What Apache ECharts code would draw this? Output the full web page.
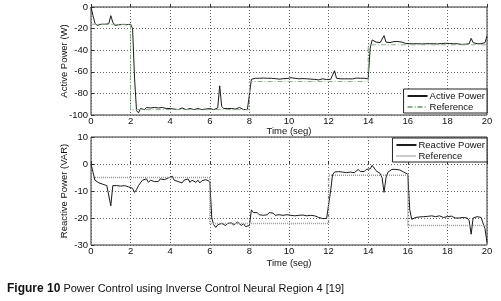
<!DOCTYPE html>
<html>
<head>
<meta charset="utf-8">
<script src="https://cdn.jsdelivr.net/npm/echarts@6/dist/echarts.min.js"></script>
<style>
  html, body { margin: 0; padding: 0; background: #fff; }
  #chart { width: 501px; height: 301px; }
</style>
</head>
<body>
<div id="chart"></div>
<script>
// sample step of the measured signals (seg)
const dt = 0.1

// Active power (W), one value every 0.1 s from 0 to 20
const activePower = [
  0, -8, -15, -17, -16.5, -16, -16.5, -16, -16.2, -15.5,
  -8, -14, -17, -16, -16.5, -15.8, -16.2, -16, -16.4, -15.9,
  -16, -20, -66, -96, -98, -94, -93.5, -95, -93, -94,
  -93.5, -94.5, -93, -94, -93.5, -94, -93, -94.5, -94, -93.5,
  -94, -93, -94.5, -94, -95, -94, -93.5, -94, -95, -93.5,
  -94, -93, -95, -95.5, -94, -94.5, -95, -94, -94.5, -95,
  -94, -94.5, -95, -94, -93.5, -73, -92, -94, -93, -94,
  -93.5, -94, -93, -94.5, -94, -93, -94.5, -95, -94.5, -95,
  -94, -67, -65.5, -66, -66.5, -66, -66.5, -65.8, -66.2, -66,
  -66.5, -66, -65.5, -66.3, -66, -66.8, -66, -66.4, -65.8, -66.2,
  -66, -65.5, -66.5, -66, -65.8, -66.5, -66, -66.3, -66.8, -66.5,
  -67, -66.8, -67.2, -67, -66.5, -67.5, -67, -66.5, -67, -67.2,
  -66.8, -67, -66.5, -59, -66, -67, -66.5, -66.8, -66.5, -66,
  -66.5, -66.2, -66.6, -66, -65.8, -66.3, -66, -66.5, -66, -66.2,
  -66.5, -38, -30.5, -31.5, -32.5, -32, -33, -32.5, -26.5, -32.5,
  -33.5, -33, -32.5, -32, -32.8, -32, -31.5, -32.5, -33.5, -33.8,
  -33.5, -34, -33.8, -34, -33.5, -34, -33.8, -34.2, -33.5, -34,
  -33.8, -34, -33.5, -34, -33.8, -34.2, -34, -33.8, -34, -33.6,
  -34, -33.8, -34.2, -34, -34.5, -34, -34.3, -34.6, -34.2, -34.5,
  -33.8, -34, -29, -33, -34.5, -34, -34.5, -34, -34.5, -33,
  -27
]

// Reactive power (VAR), one value every 0.1 s from 0 to 20
const reactivePower = [
  0, -3, -6, -6.5, -7, -7.2, -7.5, -7.3, -8, -7.6,
  -15.5, -8, -7.5, -8, -7.6, -8.2, -7.5, -8, -7.8, -8.5,
  -8, -9, -10.5, -9.5, -8, -7.5, -6, -6.5, -5.5, -6.8,
  -6, -5.5, -6.5, -5.8, -6.5, -5.5, -6.2, -5.8, -6.5, -5.2,
  -5.5, -4.5, -6, -5.5, -6.5, -6, -7, -6, -6.5, -5.5,
  -6.8, -6, -5.8, -6.8, -6, -7, -6.2, -6.5, -5.8, -6.2,
  -6.5, -20, -22.5, -23.5, -22.5, -23, -22, -22.5, -22.8, -22,
  -22.5, -21.8, -22.6, -22, -21.5, -22.2, -22.8, -22, -23.2, -22.5,
  -22.8, -17, -18, -18.5, -18, -18.8, -18.2, -19, -18.4, -18.8,
  -18, -18.6, -18.2, -19, -18.5, -18.8, -18.3, -19, -18.5, -18.8,
  -18.6, -19, -18.5, -19.2, -18.6, -19, -18.5, -18.9, -18.6, -19.2,
  -18.8, -19, -18.5, -19.2, -19.5, -19.8, -20, -20.2, -20, -20.2,
  -19.5, -10, -4, -3, -3.5, -2.8, -3.5, -3, -2.5, -3.2,
  -2.8, -3, -2.5, -3.2, -2.5, -2, -2.8, -2.2, -2.8, -2,
  -2.5, -1.8, -0.5, -1.5, -2.5, -2.8, -3.5, -5, -10.5, -5,
  -3, -2.5, -2, -1.5, -2, -2.5, -2.2, -2.8, -3, -3.5,
  -3.8, -17, -20.5, -20, -19.8, -20.2, -19.6, -20, -19.5, -19.8,
  -19.4, -19.8, -19.2, -19.6, -19.5, -19.8, -19.2, -19.6, -19.8, -20,
  -19.5, -19.8, -19.3, -19.8, -20, -20.5, -20, -20.6, -19.8, -19.5,
  -20, -21, -26, -20, -19.8, -19.5, -20, -19.8, -20.2, -24,
  -29
]

// step references: value holds from each time until the next one
const activeRefTimes = [0, 2, 8, 14, 20]
const activeRef = [-16, -95, -69, -35, -35]
const reactiveRefTimes = [0, 6, 12, 16, 20]
const reactiveRef = [-5, -22, -4.2, -22.8, -22.8]

const xTicks = [0, 2, 4, 6, 8, 10, 12, 14, 16, 18, 20]

const pairs = (xs, ys) => ys.map((v, i) => [xs ? xs[i] : +(i * dt).toFixed(1), v])

const font = 'Liberation Sans, Arial, sans-serif'
const txt = { color: '#111', fontFamily: font, fontSize: 9.5 }

const xAxisBase = (gridIndex, gap) => ({
    gridIndex: gridIndex,
    type: 'value',
    min: xTicks[0],
    max: xTicks[xTicks.length - 1],
    interval: 2,
    name: 'Time (seg)',
    nameLocation: 'middle',
    nameGap: gap,
    nameMoveOverlap: false,
    nameTextStyle: Object.assign({ verticalAlign: 'top' }, txt),
    axisLabel: Object.assign({ margin: 1 }, txt),
    axisLine: { show: false },
    axisTick: { inside: true, length: 3, lineStyle: { color: '#333' } },
    splitLine: { show: true, lineStyle: { color: '#666', type: [1, 2], width: 1 } }
})

const yAxisBase = (gridIndex, name, min, max, interval) => ({
    gridIndex: gridIndex,
    type: 'value',
    min: min,
    max: max,
    interval: interval,
    name: name,
    nameLocation: 'middle',
    nameGap: 27,
    nameMoveOverlap: false,
    nameTextStyle: Object.assign({ verticalAlign: 'middle' }, txt),
    axisLabel: Object.assign({ margin: 3 }, txt),
    axisLine: { show: false },
    axisTick: { inside: true, length: 3, lineStyle: { color: '#333' } },
    splitLine: { show: true, lineStyle: { color: '#666', type: [1, 2], width: 1 } }
})

const legendBase = {
    orient: 'vertical',
    right: 14,
    backgroundColor: '#fff',
    borderColor: '#222',
    borderWidth: 1,
    borderRadius: 0,
    padding: [2, 2, 1, 3],
    itemGap: 1,
    itemWidth: 20,
    itemHeight: 10,
    itemStyle: { opacity: 0 },
    textStyle: Object.assign({ padding: [0, 0, 0, -3] }, txt)
}

const chart = echarts.init(document.getElementById('chart'))
chart.setOption({
    animation: false,
    backgroundColor: '#fff',
    title: {
        left: 2,
        top: 278,
        text: '{b|Figure 10} Power Control using Inverse Control Neural Region 4 [19]',
        textStyle: {
            fontFamily: font,
            fontSize: 11,
            fontWeight: 'normal',
            color: '#111',
            rich: {
                b: { fontFamily: font, fontSize: 12, fontWeight: 'bold', color: '#111' }
            }
        }
    },
    grid: [
        { left: 91, right: 14, top: 7, height: 108, show: true, borderColor: '#333', borderWidth: 1, backgroundColor: 'transparent' },
        { left: 91, right: 14, top: 137, height: 108, show: true, borderColor: '#333', borderWidth: 1, backgroundColor: 'transparent' }
    ],
    xAxis: [xAxisBase(0, 11), xAxisBase(1, 13)],
    yAxis: [
        yAxisBase(0, 'Active Power (W)', -100, 0, 20),
        yAxisBase(1, 'Reactive Power (VAR)', -30, 10, 10)
    ],
    legend: [
        Object.assign({ top: 89, data: ['Active Power', 'Reference '] }, legendBase),
        Object.assign({ top: 138, data: ['Reactive Power', 'Reference'] }, legendBase)
    ],
    series: [
        {
            name: 'Active Power', type: 'line', xAxisIndex: 0, yAxisIndex: 0,
            data: pairs(null, activePower), symbol: 'none',
            lineStyle: { color: '#1a1a1a', width: 1 }, itemStyle: { color: '#1a1a1a' }
        },
        {
            name: 'Reference ', type: 'line', xAxisIndex: 0, yAxisIndex: 0, step: 'end',
            data: pairs(activeRefTimes, activeRef), symbol: 'none',
            lineStyle: { color: '#8fae8f', width: 1, type: [5, 2, 1, 2] }, itemStyle: { color: '#8fae8f' }
        },
        {
            name: 'Reactive Power', type: 'line', xAxisIndex: 1, yAxisIndex: 1,
            data: pairs(null, reactivePower), symbol: 'none',
            lineStyle: { color: '#1a1a1a', width: 1 }, itemStyle: { color: '#1a1a1a' }
        },
        {
            name: 'Reference', type: 'line', xAxisIndex: 1, yAxisIndex: 1, step: 'end',
            data: pairs(reactiveRefTimes, reactiveRef), symbol: 'none',
            lineStyle: { color: '#999', width: 1.5, type: [1, 1] }, itemStyle: { color: '#999' }
        }
    ]
})

window.addEventListener('resize', function() {
    chart.resize();
});
</script>
</body>
</html>
